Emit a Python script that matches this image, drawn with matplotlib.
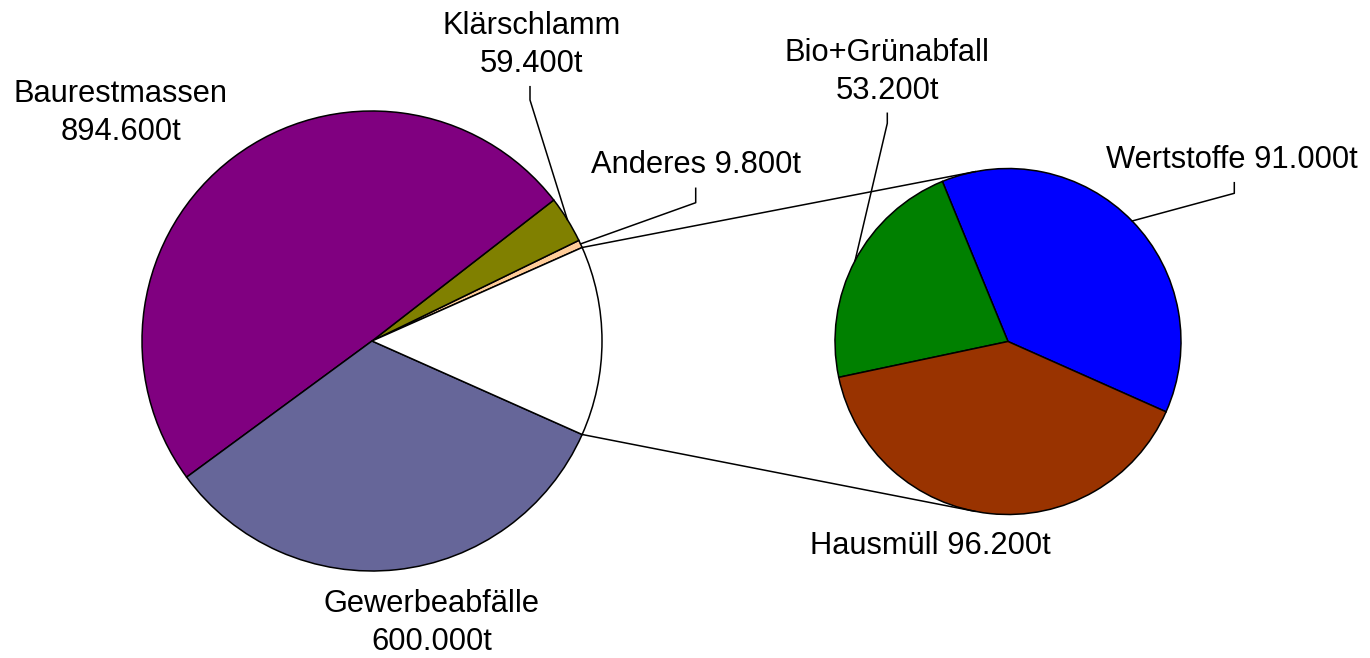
import matplotlib.pyplot as plt
import numpy as np

# main pie (thousand tonnes), the remainder goes into the second pie
names_main = ['Anderes', 'Klärschlamm', 'Baurestmassen', 'Gewerbeabfälle']
tonnes_main = [9.8, 59.4, 894.6, 600.0]
colors_main = ['#FFCC99', '#808000', '#800080', '#666699']

names_sub = ['Wertstoffe', 'Bio+Grünabfall', 'Hausmüll']
tonnes_sub = [91.0, 53.2, 96.2]
colors_sub = ['#0000FF', '#008000', '#993300']

# layout in pixels, y measured from the bottom
W, H = 1370, 658
c_main, r_main = (372, 317), 230
c_sub, r_sub = (1008, 316.5), 173

# label: x, baseline of last line, separator, leader tick (x, top, bottom) or None
lab_main = {
    'Anderes': (696, 484.7, ' ', (695.7, 469.7, 455.3)),
    'Klärschlamm': (531.7, 586.3, '\n', (530, 571.3, 558)),
    'Baurestmassen': (121, 518, '\n', None),
    'Gewerbeabfälle': (431.7, 8, '\n', None),
}
lab_sub = {
    'Wertstoffe': (1231.7, 489.7, ' ', (1234.3, 475.3, 464.7)),
    'Bio+Grünabfall': (887.5, 559, '\n', (887.3, 544.7, 534.7)),
    'Hausmüll': (930, 104, ' ', None),
}

plt.rcParams['font.family'] = ['Liberation Sans', 'DejaVu Sans']


def fmt(v):
    return '{:,.0f}'.format(v * 1000).replace(',', '.') + 't'


rest = sum(tonnes_sub)
total = sum(tonnes_main) + rest
half = 180.0 * rest / total

fig = plt.figure(figsize=(W / 100, H / 100), dpi=100)
ax = fig.add_axes([0, 0, 1, 1])

wp = dict(edgecolor='black', linewidth=1.1)
w_main, _ = ax.pie(tonnes_main + [rest], colors=colors_main + ['white'],
                   startangle=half, center=c_main, radius=r_main,
                   wedgeprops=wp)
w_sub, _ = ax.pie(tonnes_sub, colors=colors_sub, startangle=-half,
                  center=c_sub, radius=r_sub, wedgeprops=wp)

ax.set_xlim(0, W)
ax.set_ylim(0, H)
ax.set_aspect('equal')
ax.axis('off')


def on_circle(c, r, ang):
    a = np.radians(ang)
    return c[0] + r * np.cos(a), c[1] + r * np.sin(a)


# connector lines: from edge of the white slice, tangent to the second pie
for sgn in (1, -1):
    px, py = on_circle(c_main, r_main, sgn * half)
    dx, dy = c_sub[0] - px, c_sub[1] - py
    d = np.hypot(dx, dy)
    base = np.degrees(np.arctan2(py - c_sub[1], px - c_sub[0]))
    t = base - sgn * np.degrees(np.arccos(r_sub / d))
    tx, ty = on_circle(c_sub, r_sub, t)
    ax.plot([px, tx], [py, ty], color='black', lw=1.1)


def labels(wedges, names, values, layout, c, r):
    for w, n, v in zip(wedges, names, values):
        x, y, sep, tick = layout[n]
        ax.text(x, y, n + sep + fmt(v), ha='center', va='baseline',
                fontsize=22.2, linespacing=1.35, color='black')
        if tick is not None:
            mx, my = on_circle(c, r, (w.theta1 + w.theta2) / 2)
            ax.plot([tick[0], tick[0], mx], [tick[1], tick[2], my],
                    color='black', lw=1.1)


labels(w_main, names_main, tonnes_main, lab_main, c_main, r_main)
labels(w_sub, names_sub, tonnes_sub, lab_sub, c_sub, r_sub)

fig.savefig('out.png', dpi=100)
